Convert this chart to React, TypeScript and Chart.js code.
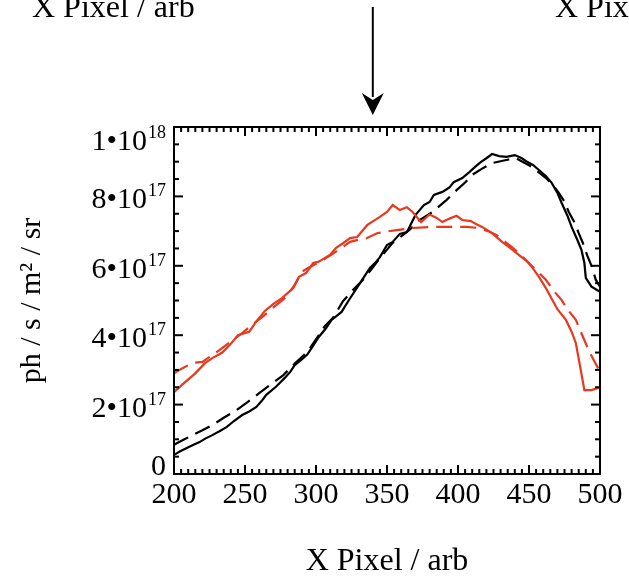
import { useEffect, useRef } from 'react';
import { Chart, registerables } from 'chart.js';

Chart.register(...registerables);

// ---- data (y values in units of 1e17 ph / s / m² / sr) ----
const xRedSolid = [200, 207, 215, 222, 227, 234, 240, 245, 253, 258, 264, 270, 276, 284, 288, 293, 298, 302, 306, 310, 314, 319, 324, 329, 336, 340, 345, 350, 354, 359, 364, 368, 374, 380, 385, 389, 394, 399, 403, 409, 413, 417, 424, 431, 436, 443, 448, 452, 457, 462, 466, 470, 476, 480, 483, 486, 489, 494, 500];
const yRedSolidE17 = [2.36, 2.62, 2.9, 3.2, 3.34, 3.5, 3.75, 4.0, 4.1, 4.4, 4.7, 4.9, 5.07, 5.36, 5.68, 5.79, 6.08, 6.12, 6.22, 6.32, 6.51, 6.65, 6.8, 6.83, 7.17, 7.28, 7.41, 7.55, 7.75, 7.61, 7.69, 7.55, 7.26, 7.48, 7.38, 7.26, 7.36, 7.44, 7.32, 7.29, 7.2, 7.12, 6.94, 6.69, 6.54, 6.31, 6.15, 5.97, 5.68, 5.35, 5.05, 4.75, 4.44, 4.1, 3.77, 3.1, 2.42, 2.42, 2.5];

const xRedDashed = [200, 206, 213, 220, 226, 232, 240, 248, 255, 262, 270, 279, 285, 290, 295, 301, 305, 312, 318, 324, 330, 336, 343, 350, 357, 368, 382, 394, 406, 415, 421, 427, 433, 438, 444, 450, 456, 462, 467, 473, 477, 483, 487, 492, 496, 500];
const yRedDashedE17 = [2.9, 3.05, 3.2, 3.23, 3.4, 3.57, 3.82, 4.06, 4.3, 4.52, 4.8, 5.1, 5.45, 5.83, 5.95, 6.08, 6.17, 6.35, 6.52, 6.69, 6.75, 6.8, 6.94, 6.99, 7.03, 7.09, 7.12, 7.12, 7.12, 7.09, 7.0, 6.89, 6.7, 6.54, 6.32, 6.08, 5.84, 5.59, 5.3, 5.01, 4.75, 4.44, 4.05, 3.57, 3.25, 2.95];

const xBlackSolid = [200, 204, 209, 213, 218, 222, 227, 232, 237, 242, 248, 253, 258, 262, 265, 272, 278, 282, 285, 290, 294, 298, 302, 307, 311, 315, 318, 323, 331, 335, 338, 342, 345, 350, 354, 359, 364, 370, 376, 380, 383, 389, 394, 397, 403, 408, 412, 416, 420, 424, 429, 434, 440, 445, 449, 453, 457, 462, 466, 470, 473, 477, 480, 484, 487, 489, 490, 494, 500];
const yBlackSolidE17 = [0.55, 0.65, 0.75, 0.83, 0.92, 1.02, 1.12, 1.23, 1.35, 1.52, 1.7, 1.8, 1.93, 2.12, 2.28, 2.52, 2.77, 2.95, 3.14, 3.3, 3.45, 3.7, 3.95, 4.2, 4.44, 4.57, 4.67, 5.0, 5.5, 5.75, 5.94, 6.1, 6.25, 6.6, 6.69, 6.92, 6.97, 7.46, 7.75, 7.84, 8.04, 8.13, 8.26, 8.41, 8.53, 8.7, 8.85, 8.99, 9.1, 9.22, 9.16, 9.14, 9.19, 9.1, 8.99, 8.9, 8.76, 8.58, 8.39, 8.1, 7.81, 7.45, 7.12, 6.75, 6.45, 6.08, 5.65, 5.4, 5.25];

const xBlackDashed = [200, 206, 213, 220, 227, 235, 244, 252, 260, 268, 277, 285, 294, 302, 306, 312, 319, 326, 333, 339, 345, 354, 360, 366, 373, 382, 392, 399, 405, 410, 417, 424, 434, 441, 450, 456, 462, 467, 471, 475, 478, 482, 485, 488, 491, 494, 497, 500];
const yBlackDashedE17 = [0.84, 0.97, 1.12, 1.26, 1.41, 1.62, 1.84, 2.08, 2.33, 2.58, 2.85, 3.18, 3.52, 4.0, 4.25, 4.5, 4.98, 5.3, 5.59, 5.9, 6.22, 6.66, 6.85, 7.04, 7.32, 7.55, 7.9, 8.18, 8.4, 8.62, 8.8, 8.96, 9.05, 9.1, 8.9, 8.72, 8.53, 8.32, 8.1, 7.85, 7.55, 7.25, 6.94, 6.65, 6.3, 6.0, 5.6, 5.4];

const yTickValuesE17 = [0, 2, 4, 6, 8, 10];
const yTickBase = ['0', '2•10', '4•10', '6•10', '8•10', '1•10'];
const yTickExp = ['', '17', '17', '17', '17', '18'];

const xAxisTitle = 'X Pixel / arb';
const yAxisTitle = 'ph / s / m² / sr';
const neighbourTitles = ['X Pixel / arb', 'X Pixel / arb'];
const arrowX = 340;

const RED = '#e8391f';
const FONT = 'Liberation Serif';

const toPoints = (xs: number[], ys: number[]) => xs.map((x, i) => ({ x, y: ys[i] * 1e17 }));

const framePlugin = {
  id: 'idlFrame',
  afterDraw(chart: any) {
    const { ctx, chartArea: a, scales } = chart;
    const x = scales.x;
    const y = scales.y;
    ctx.save();
    ctx.strokeStyle = '#000';
    ctx.fillStyle = '#000';
    ctx.lineWidth = 2;
    ctx.setLineDash([]);
    ctx.strokeRect(a.left, a.top, a.right - a.left, a.bottom - a.top);

    const seg = (x1: number, y1: number, x2: number, y2: number) => {
      ctx.beginPath();
      ctx.moveTo(x1, y1);
      ctx.lineTo(x2, y2);
      ctx.stroke();
    };
    // inward ticks on all four sides: x minor every 5, major every 50
    for (let i = 0; i <= 60; i++) {
      const px = x.getPixelForValue(200 + i * 5);
      const len = i % 10 === 0 ? 9 : 5;
      seg(px, a.bottom, px, a.bottom - len);
      seg(px, a.top, px, a.top + len);
    }
    // y minor every 0.5e17, major every 2e17
    for (let i = 0; i <= 20; i++) {
      const py = y.getPixelForValue(i * 0.5e17);
      const len = i % 4 === 0 ? 9 : 5;
      seg(a.left, py, a.left + len, py);
      seg(a.right, py, a.right - len, py);
    }

    // y tick labels with superscript exponents
    ctx.textAlign = 'left';
    ctx.textBaseline = 'alphabetic';
    const right = a.left - 8;
    yTickValuesE17.forEach((v, i) => {
      const py = y.getPixelForValue(v * 1e17);
      let base = py + 12;
      base = Math.max(base, a.top + 23);
      base = Math.min(base, a.bottom + 1);
      ctx.font = `18px "${FONT}"`;
      const ew = yTickExp[i] ? ctx.measureText(yTickExp[i]).width : 0;
      ctx.font = `30px "${FONT}"`;
      const bw = ctx.measureText(yTickBase[i]).width;
      const start = right - ew - bw - (ew ? 1 : 0);
      ctx.fillText(yTickBase[i], start, base);
      if (yTickExp[i]) {
        ctx.font = `18px "${FONT}"`;
        ctx.fillText(yTickExp[i], right - ew, base - 12);
      }
    });

    // arrow pointing at the marked pixel
    const ax = x.getPixelForValue(arrowX);
    const tip = a.top - 12;
    seg(ax, 7, ax, tip - 18);
    ctx.beginPath();
    ctx.moveTo(ax, tip);
    ctx.lineTo(ax - 11, tip - 22);
    ctx.lineTo(ax, tip - 15);
    ctx.lineTo(ax + 11, tip - 22);
    ctx.closePath();
    ctx.fill();

    // cropped axis titles of the neighbouring panels above
    ctx.font = `32px "${FONT}"`;
    ctx.fillText(neighbourTitles[0], 32, 17);
    ctx.fillText(neighbourTitles[1], 555, 17);
    ctx.restore();
  },
};

export default function App() {
  const ref = useRef<HTMLCanvasElement | null>(null);
  useEffect(() => {
    if (!ref.current) return;
    const chart = new Chart(ref.current, {
      type: 'line',
      data: {
        datasets: [
          { data: toPoints(xRedDashed, yRedDashedE17), borderColor: RED, borderWidth: 2.2, borderDash: [16, 8], pointRadius: 0, fill: false, tension: 0 },
          { data: toPoints(xRedSolid, yRedSolidE17), borderColor: RED, borderWidth: 2.2, pointRadius: 0, fill: false, tension: 0 },
          { data: toPoints(xBlackDashed, yBlackDashedE17), borderColor: '#000', borderWidth: 2.2, borderDash: [16, 8], pointRadius: 0, fill: false, tension: 0 },
          { data: toPoints(xBlackSolid, yBlackSolidE17), borderColor: '#000', borderWidth: 2.2, pointRadius: 0, fill: false, tension: 0 },
        ],
      },
      options: {
        animation: false,
        responsive: false,
        devicePixelRatio: 1,
        layout: { padding: { top: 127, right: 29, bottom: 0, left: 0 } },
        plugins: { legend: { display: false }, tooltip: { enabled: false } },
        scales: {
          x: {
            type: 'linear',
            min: 200,
            max: 500,
            grid: { display: false, drawTicks: false },
            border: { display: false },
            ticks: { stepSize: 50, color: '#000', padding: 3, maxRotation: 0, autoSkip: false, font: { family: FONT, size: 30 } },
            title: { display: true, text: xAxisTitle, color: '#000', font: { family: FONT, size: 32 }, padding: { top: 0, bottom: 0 } },
            afterFit: (s: any) => { s.height = 107; },
          },
          y: {
            type: 'linear',
            min: 0,
            max: 1e18,
            grid: { display: false, drawTicks: false },
            border: { display: false },
            ticks: { display: false, stepSize: 2e17 },
            title: { display: true, text: yAxisTitle, color: '#000', font: { family: FONT, size: 30 }, padding: { top: 14, bottom: 0 } },
            afterFit: (s: any) => { s.width = 174; },
          },
        },
      },
      plugins: [framePlugin],
    });
    return () => chart.destroy();
  }, []);
  return (
    <div style={{ position: 'absolute', left: 0, top: 0, width: 629, height: 581, background: '#fff' }}>
      <canvas ref={ref} width={629} height={581} style={{ display: 'block' }} />
    </div>
  );
}
